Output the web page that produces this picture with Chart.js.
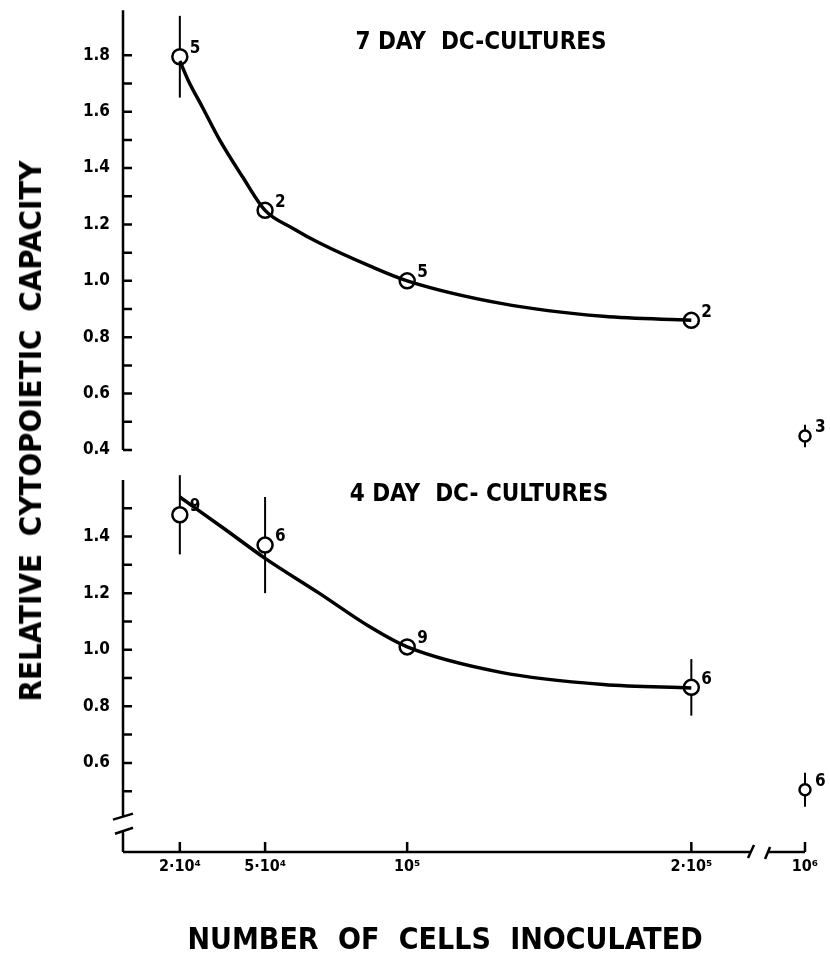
<!DOCTYPE html>
<html>
<head>
<meta charset="utf-8">
<script src="https://cdn.jsdelivr.net/npm/chart.js@4.4.1/dist/chart.umd.min.js"></script>
<style>
  body { margin: 0; background: #fff; }
  #wrap {
    position: relative; width: 830px; height: 958px; overflow: hidden;
    font-family: "DejaVu Sans Condensed", "DejaVu Sans", sans-serif;
    font-weight: bold; color: #000;
  }
  canvas { position: absolute; left: 0; }
  #top { top: 0; }
  #bottom { top: 460px; }
  .label { position: absolute; white-space: nowrap; transform: translate(-50%, -50%); }
  #ytitle { left: 30px; top: 431px; font-size: 31px; word-spacing: 8px; transform: translate(-50%, -50%) rotate(-90deg); }
  #xtitle { left: 445px; top: 938px; font-size: 30px; word-spacing: 10px; }
  .panel { font-size: 24px; }
</style>
</head>
<body>
<div id="wrap">
  <canvas id="top" width="830" height="470"></canvas>
  <canvas id="bottom" width="830" height="498"></canvas>
  <div id="ytitle" class="label">RELATIVE CYTOPOIETIC CAPACITY</div>
  <div id="xtitle" class="label">NUMBER OF CELLS INOCULATED</div>
  <div class="label panel" style="left:481px; top:41px">7 DAY&nbsp; DC-CULTURES</div>
  <div class="label panel" style="left:479px; top:493px">4 DAY&nbsp; DC- CULTURES</div>
</div>
<script>
// cells inoculated per culture
const cells = [2e4, 5e4, 1e5, 2e5, 1e6];
const tickLabels = ["2·10⁴", "5·10⁴", "10⁵", "2·10⁵", "10⁶"];

// 7 day DC-cultures
const day7Mean = [1.795, 1.25, 1.0, 0.86, 0.45];
const day7Err = [0.145, 0, 0, 0, 0.04];
const day7N = [5, 2, 5, 2, 3];
const curveCells7 = [2e4, 2.3e4, 2.8e4, 3.4e4, 4.2e4, 5e4, 6e4, 6.9e4, 8.7e4, 1e5, 1.33e5, 1.69e5, 2e5];
const curve7 = [1.78, 1.71, 1.615, 1.5, 1.37, 1.25, 1.185, 1.135, 1.052, 1.0, 0.92, 0.874, 0.86];

// 4 day DC-cultures
const day4Mean = [1.477, 1.37, 1.01, 0.867, 0.505];
const day4Err = [0.14, 0.17, 0, 0.1, 0.06];
const day4N = [9, 6, 9, 6, 6];
const curveCells4 = [2e4, 3.6e4, 5e4, 6.9e4, 8.7e4, 1e5, 1.33e5, 1.69e5, 2e5];
const curve4 = [1.54, 1.425, 1.323, 1.2, 1.08, 1.01, 0.92, 0.877, 0.865];

const topTicks = [0.4, 0.6, 0.8, 1.0, 1.2, 1.4, 1.6, 1.8];
const bottomTicks = [0.6, 0.8, 1.0, 1.2, 1.4];

// axis is linear in units of 10^4 up to 2·10^5, then broken; 10^6 sits after the break
const BREAK_POS = 24;
function axisPos(n) {
  return n <= 2e5 ? n / 1e4 : BREAK_POS;
}
const xTickPos = cells.map(axisPos);

Chart.defaults.font.family = '"DejaVu Sans Condensed", "DejaVu Sans", sans-serif';
Chart.defaults.font.weight = "bold";
Chart.defaults.color = "#000";

const decor = {
  id: "decor",
  beforeDatasetsDraw(chart, args, o) {
    const ctx = chart.ctx;
    const x = chart.scales.x;
    const y = chart.scales.y;
    ctx.save();
    ctx.strokeStyle = "#000";
    ctx.lineWidth = 2;
    cells.forEach((c, i) => {
      if (!o.errs[i]) return;
      const px = x.getPixelForValue(axisPos(c));
      ctx.beginPath();
      ctx.moveTo(px, y.getPixelForValue(o.means[i] + o.errs[i]));
      ctx.lineTo(px, y.getPixelForValue(o.means[i] - o.errs[i]));
      ctx.stroke();
    });
    ctx.restore();
  },
  afterDatasetsDraw(chart, args, o) {
    const ctx = chart.ctx;
    const { left, right, top, bottom } = chart.chartArea;
    const x = chart.scales.x;
    const y = chart.scales.y;
    ctx.save();
    ctx.strokeStyle = "#000";
    ctx.lineWidth = 2.5;
    ctx.lineCap = "butt";

    // y axis line, with break marks on the lower panel
    ctx.beginPath();
    if (o.yBreak) {
      const b1 = y.getPixelForValue(o.yBreak[1]);
      const b0 = y.getPixelForValue(o.yBreak[0]);
      ctx.moveTo(left, top);
      ctx.lineTo(left, b1);
      ctx.moveTo(left, b0);
      ctx.lineTo(left, bottom);
      ctx.moveTo(left - 10, b1 + 3);
      ctx.lineTo(left + 10, b1 - 3);
      ctx.moveTo(left - 8, b0 + 3);
      ctx.lineTo(left + 10, b0 - 3);
    } else {
      ctx.moveTo(left, top);
      ctx.lineTo(left, bottom);
    }
    ctx.stroke();

    // inside ticks every 0.1
    ctx.beginPath();
    for (let v = o.minor[0]; v <= o.minor[1] + 1e-6; v += 0.1) {
      const py = y.getPixelForValue(v);
      ctx.moveTo(left, py);
      ctx.lineTo(left + 9, py);
    }
    ctx.stroke();

    // x axis with break before 10^6
    if (o.xAxis) {
      const g0 = x.getPixelForValue(22.1);
      const g1 = x.getPixelForValue(22.7);
      ctx.beginPath();
      ctx.moveTo(left, bottom);
      ctx.lineTo(g0, bottom);
      ctx.moveTo(g1, bottom);
      ctx.lineTo(right, bottom);
      ctx.moveTo(g0 - 3, bottom + 6);
      ctx.lineTo(g0 + 3, bottom - 7);
      ctx.moveTo(g1 - 3, bottom + 7);
      ctx.lineTo(g1 + 2, bottom - 5);
      xTickPos.forEach((v) => {
        const px = x.getPixelForValue(v);
        ctx.moveTo(px, bottom);
        ctx.lineTo(px, bottom - 10);
      });
      ctx.stroke();
    }

    // number of experiments next to each point
    ctx.fillStyle = "#000";
    ctx.font = 'bold 17px "DejaVu Sans Condensed", "DejaVu Sans", sans-serif';
    ctx.textAlign = "left";
    ctx.textBaseline = "middle";
    cells.forEach((c, i) => {
      const px = x.getPixelForValue(axisPos(c));
      const py = y.getPixelForValue(o.means[i]);
      ctx.fillText(String(o.counts[i]), px + 10, py - 8);
    });
    ctx.restore();
  },
};

function makeChart(id, curveCells, curve, means, errs, counts, yCfg) {
  return new Chart(document.getElementById(id), {
    type: "line",
    data: {
      datasets: [
        {
          data: curveCells.map((c, i) => ({ x: axisPos(c), y: curve[i] })),
          borderColor: "#000",
          borderWidth: 3.5,
          pointRadius: 0,
          cubicInterpolationMode: "monotone",
          fill: false,
          clip: false,
        },
        {
          data: cells.map((c, i) => ({ x: axisPos(c), y: means[i] })),
          showLine: false,
          pointRadius: (ctx) => (cells[ctx.dataIndex] > 2e5 ? 5.5 : 7.5),
          pointBorderWidth: 2.5,
          pointBorderColor: "#000",
          pointBackgroundColor: "#fff",
          clip: false,
        },
      ],
    },
    options: {
      responsive: false,
      animation: false,
      events: [],
      layout: { padding: yCfg.padding, autoPadding: false },
      plugins: {
        legend: { display: false },
        tooltip: { enabled: false },
        decor: {
          means: means,
          errs: errs,
          counts: counts,
          minor: yCfg.minor,
          yBreak: yCfg.yBreak,
          xAxis: yCfg.xAxis,
        },
      },
      scales: {
        x: {
          type: "linear",
          min: 0,
          max: BREAK_POS,
          display: yCfg.xAxis,
          grid: { display: false, drawTicks: false },
          border: { display: false },
          afterBuildTicks: (scale) => {
            scale.ticks = xTickPos.map((v) => ({ value: v }));
          },
          afterFit: (scale) => {
            scale.height = yCfg.xAxis ? 106 : 0;
          },
          ticks: {
            padding: 5,
            autoSkip: false,
            maxRotation: 0,
            font: { size: 16 },
            callback: (value, index) => tickLabels[index],
          },
        },
        y: {
          min: yCfg.min,
          max: yCfg.max,
          grid: {
            display: true,
            drawOnChartArea: false,
            drawTicks: true,
            tickLength: 13,
            tickColor: "rgba(0,0,0,0)",
          },
          border: { display: false },
          afterBuildTicks: (scale) => {
            scale.ticks = yCfg.ticks.map((v) => ({ value: v }));
          },
          afterFit: (scale) => {
            scale.width = 123;
          },
          ticks: {
            padding: 0,
            font: { size: 17 },
            callback: (value) => value.toFixed(1),
          },
        },
      },
    },
    plugins: [decor],
  });
}

makeChart("top", curveCells7, curve7, day7Mean, day7Err, day7N, {
  min: 0.4,
  max: 1.96,
  ticks: topTicks,
  minor: [0.4, 1.8],
  xAxis: false,
  yBreak: null,
  padding: { top: 10, right: 25, bottom: 20, left: 0 },
});

makeChart("bottom", curveCells4, curve4, day4Mean, day4Err, day4N, {
  min: 0.285,
  max: 1.6,
  ticks: bottomTicks,
  minor: [0.5, 1.5],
  xAxis: true,
  yBreak: [0.36, 0.41],
  padding: { top: 20, right: 25, bottom: 0, left: 0 },
});
</script>
</body>
</html>
